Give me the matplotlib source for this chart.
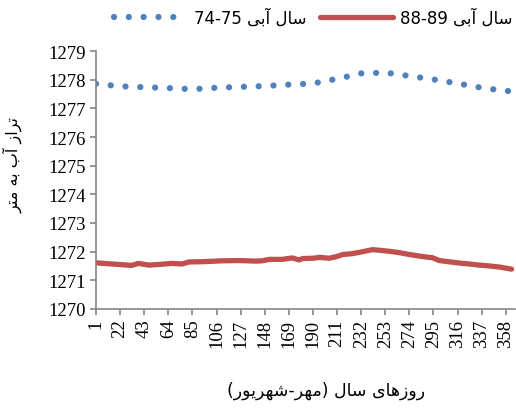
import matplotlib
matplotlib.use('Agg')
import matplotlib.pyplot as plt

# Persian strings are written in visual order with presentation forms,
# since matplotlib does no Arabic shaping / bidi.
SAL = '\uFEDD\uFE8E\uFEB3'               # سال
ABI = '\uFBFD\uFE91\uFE81'               # آبی
label_7475 = '74-75 ' + ABI + ' ' + SAL  # سال آبی 74-75
label_8889 = '88-89 ' + ABI + ' ' + SAL  # سال آبی 88-89
ylabel_fa = ('\uFEAE\uFE98\uFEE3' + ' ' + '\uFEEA\uFE91' + ' ' + '\uFE8F\uFE81'
             + ' ' + '\uFEAF\uFE8D\uFEAE\uFE97')          # تراز آب به متر
xlabel_fa = ('(' + '\uFEAD\uFEEE\uFBFE\uFEAE\uFEEC\uFEB7' + '-' + '\uFEAE\uFEEC\uFEE3' + ')'
             + ' ' + SAL + ' ' + '\uFBFC\uFE8E\uFEEB\uFEAF\uFEED\uFEAD')  # روزهای سال (مهر-شهریور)

# water year 74-75 (blue dotted)
days_7475 = [1, 22, 43, 64, 85, 106, 127, 148, 169, 190, 211, 232, 253, 274, 295, 316, 337, 358, 362]
level_7475 = [1277.86, 1277.77, 1277.74, 1277.71, 1277.67, 1277.72, 1277.75, 1277.78, 1277.83,
              1277.87, 1278.03, 1278.22, 1278.25, 1278.13, 1278.01, 1277.87, 1277.72, 1277.61, 1277.60]

# water year 88-89 (red)
days_8889 = [1, 15, 32, 38, 47, 58, 67, 76, 82, 95, 111, 126, 140, 146, 152, 163, 172, 178, 181,
             190, 196, 204, 210, 216, 224, 231, 242, 250, 257, 266, 274, 282, 289, 294, 300, 310,
             318, 326, 335, 344, 353, 363]
level_8889 = [1271.61, 1271.57, 1271.52, 1271.59, 1271.53, 1271.56, 1271.59, 1271.57, 1271.64,
              1271.65, 1271.68, 1271.69, 1271.67, 1271.68, 1271.73, 1271.73, 1271.78, 1271.71,
              1271.76, 1271.77, 1271.80, 1271.77, 1271.82, 1271.90, 1271.93, 1271.98, 1272.07,
              1272.04, 1272.01, 1271.96, 1271.90, 1271.85, 1271.81, 1271.79, 1271.69, 1271.64,
              1271.60, 1271.57, 1271.53, 1271.50, 1271.46, 1271.39]

xticks = list(range(1, 366, 21))
yticks = list(range(1270, 1280))

BLUE = '#4F81BD'
RED = '#C0504D'
GRAY = '#868686'

fig = plt.figure(figsize=(5.16, 4.10), dpi=100)
ax = fig.add_axes([0.186, 0.244, 0.812, 0.629])

ax.plot(days_7475, level_7475, color=BLUE, lw=4.5, linestyle=(0, (0.01, 2.36)),
        dash_capstyle='round', label=label_7475)
ax.plot(days_8889, level_8889, color=RED, lw=3.8, solid_capstyle='round',
        solid_joinstyle='round', label=label_8889)

ax.set_xlim(1, 366)
ax.set_ylim(1270, 1279)
ax.set_xticks(xticks)
ax.set_yticks(yticks)
ax.set_xticklabels([str(t) for t in xticks], rotation=90, family='Liberation Serif', fontsize=13.5)
ax.set_yticklabels([str(t) for t in yticks], family='Liberation Serif', fontsize=13.5)

for s in ['top', 'right']:
    ax.spines[s].set_visible(False)
for s in ['left', 'bottom']:
    ax.spines[s].set_color(GRAY)
    ax.spines[s].set_linewidth(1.2)
ax.tick_params(axis='both', direction='out', length=4, width=1.2, color=GRAY, pad=3)

ax.set_ylabel(ylabel_fa, family='DejaVu Sans', fontsize=11.5)
ax.yaxis.set_label_coords(-0.175, 0.56)
ax.set_xlabel(xlabel_fa, family='DejaVu Sans', fontsize=12.5)
ax.xaxis.set_label_coords(0.55, -0.28)

ax.legend(loc='center', bbox_to_anchor=(0.518, 1.13), ncol=2, frameon=False,
          prop={'family': 'DejaVu Sans', 'size': 12}, handlelength=4.4,
          handletextpad=0.4, columnspacing=0.8, borderaxespad=0)

fig.savefig('out.png', dpi=100)
